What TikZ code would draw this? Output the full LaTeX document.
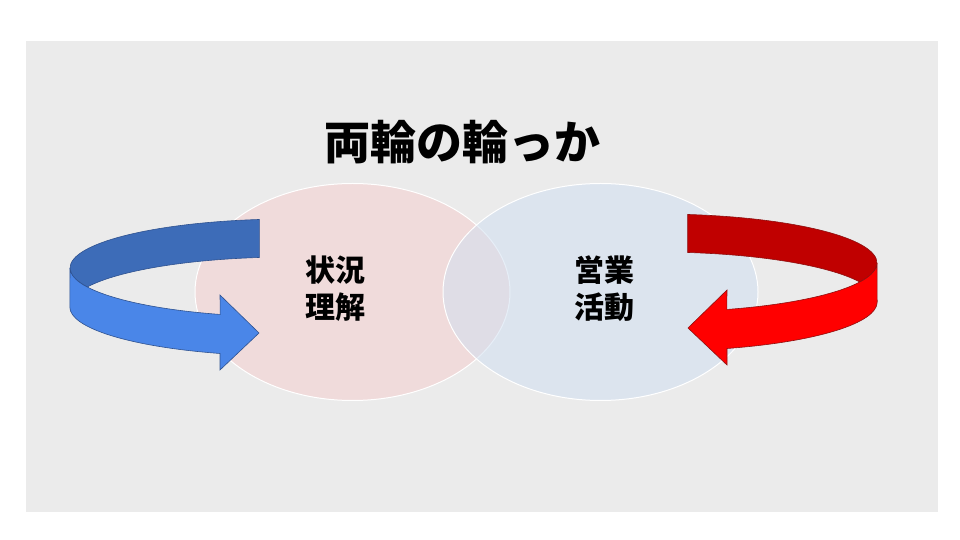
\documentclass[tikz,border=0pt]{standalone}
\usepackage{fontspec}
\setmainfont{Noto Sans CJK JP}
\usetikzlibrary{shapes.geometric,calc}

\definecolor{bggrey}{HTML}{EBEBEB}
\definecolor{pinkfill}{HTML}{F5CDCD}
\definecolor{bluefill}{HTML}{CFDFF1}
\definecolor{bluedark}{HTML}{3D6CB8}
\definecolor{bluelight}{HTML}{4A86E8}
\definecolor{blueline}{HTML}{2F528F}
\definecolor{reddark}{HTML}{C00000}
\definecolor{redlight}{HTML}{FF0000}
\definecolor{redline}{HTML}{8E1010}

\begin{document}
\begin{tikzpicture}[x=1pt,y=1pt]
  \tikzstyle{wheel}=[ellipse,draw=white,line width=1pt,fill opacity=0.5,minimum width=315pt,minimum height=217pt,inner sep=0pt]
  \tikzstyle{word}=[align=center,font=\bfseries\fontsize{30}{37}\selectfont]
  \tikzset{
    pics/ribbon/.style n args={3}{code={
      % inner side of the band
      \filldraw[fill=#1,draw=#3,line width=0.6pt]
        (98:220 and 49) arc[start angle=98,end angle=203.4,x radius=220pt,y radius=49pt]
        -- ([yshift=-38pt]156.6:220 and 49)
        arc[start angle=156.6,end angle=98,x radius=220pt,y radius=49pt] -- cycle;
      % outer side with the head
      \filldraw[fill=#2,draw=#3,line width=0.6pt]
        (180:220 and 49) arc[start angle=180,end angle=251.5,x radius=220pt,y radius=49pt]
        -- (-70,-27) -- (-31,-65) -- (-70,-102) -- (-70,-85.5)
        arc[start angle=251.5,end angle=180,x radius=220pt,y radius=49pt] -- cycle;
    }}
  }
  \useasboundingbox (0,0) rectangle (960,540);
  \fill[bggrey] (26,28) rectangle (938,499);

  \node[font=\bfseries\fontsize{46}{52}\selectfont] (title) at (462,398) {両輪の輪っか};

  \node[wheel,fill=pinkfill] (situ) at (352.5,248) {};
  \node[wheel,fill=bluefill] (sales) at (600.5,248) {};
  \node[word] (situtext) at (335,251) {状況\\理解};
  \node[word] (salestext) at (604,251) {営業\\活動};

  \pic (blueloop) at (290,272) {ribbon={bluedark}{bluelight}{blueline}};
  \pic[xscale=-1] (redloop) at (657,277) {ribbon={reddark}{redlight}{redline}};
\end{tikzpicture}
\end{document}
